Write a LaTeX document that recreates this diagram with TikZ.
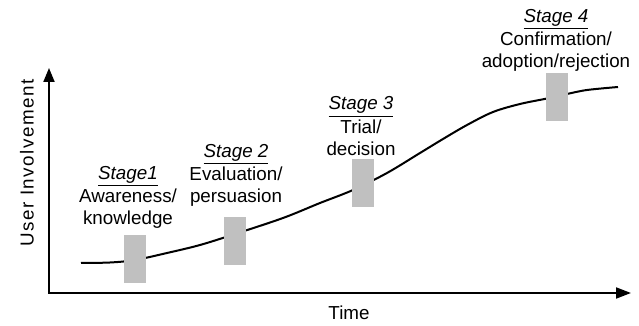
\documentclass[tikz,border=0pt]{standalone}
\usepackage{fontspec}
\setmainfont{Liberation Sans}
\usepackage{tikz}
\usetikzlibrary{arrows.meta,positioning}
\definecolor{barGray}{HTML}{C0C0C0}
\newcommand{\stagetitle}[1]{\underline{\textit{#1}}}

\begin{document}
\begin{tikzpicture}[x=0.5pt,y=-0.5pt,
	font=\fontsize{9.4}{10.8}\selectfont,
	bar/.style={fill=barGray,inner sep=0pt,minimum width=11pt,minimum height=24pt},
	stagetext/.style={align=center,inner sep=0pt}]
\useasboundingbox (0,0) rectangle (639,326);
% axes
\coordinate (o) at (49,293);
\coordinate (ytip) at (49,68);
\coordinate (xtip) at (631,293);
\draw[line width=1pt,{Triangle[length=7pt,width=5.5pt]}-{Triangle[length=7.5pt,width=5.5pt]}]
	(ytip) -- (o) -- (xtip);
\node (time) at (349,313) {Time};
\node[rotate=90] (involve) at (27,163) {\addfontfeature{LetterSpace=8}User Involvement};
% the curve
\draw[line width=1pt] plot[smooth,tension=0.55] coordinates {
	(81,263) (110,262.5) (135,260) (167,253) (200,245) (235,234) (283,218)
	(320,203) (353,190) (387,173) (420,153) (443,139) (467,125) (493,112)
	(520,104) (547,98.5) (567,94) (587,90) (618,87)};
% stages
\node[bar] (bar1) at (135,259) {};
\node[bar] (bar2) at (235,241) {};
\node[bar] (bar3) at (362.5,183.5) {};
\node[bar] (bar4) at (556.5,97.5) {};
\node[stagetext] (stage1) at (128,197) {\stagetitle{Stage1}\\[1pt] Awareness/\\ knowledge};
\node[stagetext] (stage2) at (236,175) {\stagetitle{Stage 2}\\[1pt] Evaluation/\\ persuasion};
\node[stagetext] (stage3) at (361,126) {\stagetitle{Stage 3}\\[1pt] Trial/\\ decision};
\node[stagetext] (stage4) at (556,40) {\stagetitle{Stage 4}\\[1pt] Confirmation/\\ adoption/rejection};
\end{tikzpicture}
\end{document}
